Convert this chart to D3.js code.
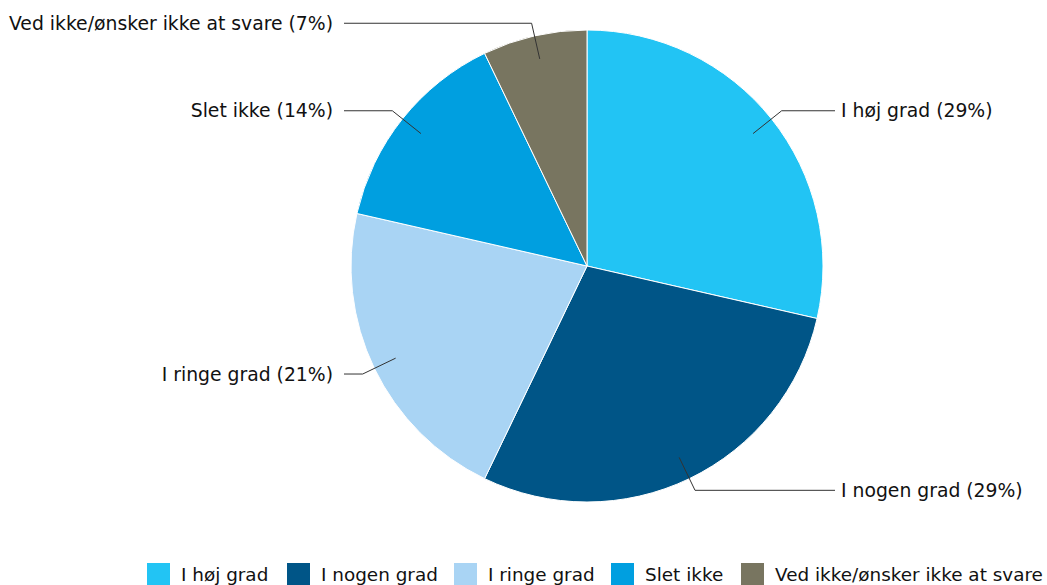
<!DOCTYPE html>
<html><head><meta charset="utf-8">
<script src="https://cdn.jsdelivr.net/npm/d3@7"></script>
<style>html,body{margin:0;padding:0;background:#fff;overflow:hidden}</style>
</head><body>
<svg id="c" width="1047" height="585"></svg>
<script>
const categories = ["I høj grad", "I nogen grad", "I ringe grad", "Slet ikke", "Ved ikke/ønsker ikke at svare"];
const values = [4, 4, 3, 2, 1];
const percentLabels = ["29%", "29%", "21%", "14%", "7%"];
const colors = ["#22c4f4", "#005587", "#a9d4f4", "#009fe0", "#787560"];

const svg = d3.select("#c");
const cx = 587, cy = 266, R = 236;
const font = "'DejaVu Sans', Verdana, sans-serif";
const fs = 18.8;
const lfs = 18.4;

const pie = d3.pie().sort(null).value(d => d)(values);
const arc = d3.arc().innerRadius(0).outerRadius(R);
const g = svg.append("g").attr("transform", `translate(${cx},${cy})`);
g.selectAll("path").data(pie).join("path")
  .attr("d", arc).attr("fill", (d, i) => colors[i])
  .attr("stroke", "#fff").attr("stroke-width", 1);

const ptAt = (a, r) => [Math.sin(a) * r, -Math.cos(a) * r];
pie.forEach((d, i) => {
  const m = (d.startAngle + d.endAngle) / 2;
  const p1 = ptAt(m, R * 0.9);
  const p2 = ptAt(m, R * 1.055);
  const right = Math.sin(m) > 0;
  const xEnd = right ? 835 - cx : 344 - cx;
  g.append("polyline")
    .attr("points", [p1, p2, [xEnd, p2[1]]].map(p => p.join(",")).join(" "))
    .attr("fill", "none").attr("stroke", "#333").attr("stroke-width", 1);
  g.append("text")
    .attr("x", right ? xEnd + 6 : xEnd - 11)
    .attr("y", p2[1]).attr("dy", "0.35em")
    .attr("text-anchor", right ? "start" : "end")
    .attr("font-family", font).attr("font-size", fs).attr("fill", "#111")
    .text(`${categories[i]} (${percentLabels[i]})`);
});

const legendX = [147, 287, 454, 611, 741];
const lg = svg.append("g");
categories.forEach((c, i) => {
  lg.append("rect").attr("x", legendX[i]).attr("y", 563).attr("width", 23).attr("height", 23).attr("fill", colors[i]);
  lg.append("text").attr("x", legendX[i] + 34).attr("y", 574.5).attr("dy", "0.35em")
    .attr("font-family", font).attr("font-size", lfs).attr("fill", "#111").text(c);
});
</script>
</body></html>
